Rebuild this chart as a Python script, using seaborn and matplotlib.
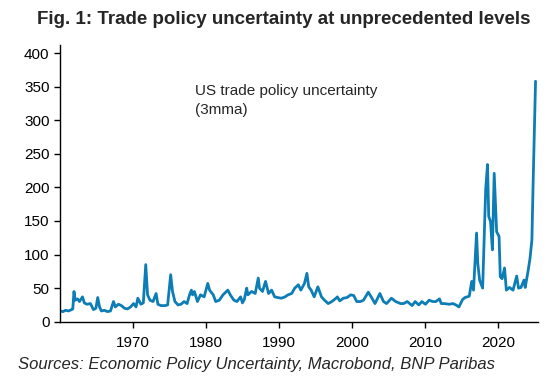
import matplotlib
matplotlib.use("Agg")
import matplotlib.pyplot as plt
import pandas as pd
import seaborn as sns

# US trade policy uncertainty (3mma)
dates = [
    "1960-01", "1960-06", "1960-10", "1961-03", "1961-08", "1961-10", "1961-12",
    "1962-02", "1962-06", "1962-09", "1963-02", "1963-05", "1963-09", "1964-03",
    "1964-08", "1964-12", "1965-03", "1965-06", "1965-09", "1966-02", "1966-07",
    "1966-12", "1967-05", "1967-08", "1968-01", "1968-06", "1968-11", "1969-04",
    "1969-09", "1970-02", "1970-06", "1970-09", "1971-02", "1971-06", "1971-10",
    "1972-01", "1972-05", "1972-10", "1973-03", "1973-06", "1973-11", "1974-06",
    "1974-10", "1975-03", "1975-06", "1975-10", "1976-03", "1976-08", "1977-01",
    "1977-06", "1977-10", "1978-01", "1978-03", "1978-06", "1978-11", "1979-04",
    "1979-10", "1980-04", "1980-07", "1981-01", "1981-05", "1981-11", "1982-05",
    "1983-01", "1983-05", "1983-11", "1984-04", "1984-10", "1985-01", "1985-04",
    "1985-08", "1985-10", "1986-04", "1986-10", "1987-03", "1987-05", "1987-10",
    "1988-03", "1988-08", "1989-01", "1989-06", "1989-11", "1990-05", "1990-11",
    "1991-04", "1991-10", "1992-03", "1992-09", "1993-01", "1993-07", "1993-11",
    "1994-02", "1994-06", "1994-11", "1995-05", "1995-11", "1996-04", "1996-10",
    "1997-04", "1997-11", "1998-01", "1998-05", "1998-11", "1999-05", "1999-11",
    "2000-04", "2000-09", "2001-03", "2001-08", "2002-04", "2002-10", "2003-03",
    "2003-11", "2004-05", "2004-10", "2005-06", "2006-01", "2006-09", "2007-02",
    "2007-08", "2008-04", "2008-09", "2009-03", "2009-08", "2010-02", "2010-08",
    "2011-02", "2011-07", "2012-01", "2012-04", "2012-09", "2013-05", "2013-11",
    "2014-04", "2014-09", "2015-03", "2015-07", "2016-02", "2016-06", "2016-09",
    "2017-02", "2017-04", "2017-07", "2017-12", "2018-05", "2018-08", "2018-10",
    "2019-01", "2019-04", "2019-07", "2019-09", "2019-11", "2020-03", "2020-05",
    "2020-08", "2020-12", "2021-03", "2021-08", "2022-02", "2022-08", "2022-11",
    "2023-03", "2023-08", "2023-10", "2024-03", "2024-06", "2024-09", "2024-11",
    "2025-03",
]
tpu = [
    16, 15, 17, 16, 18, 19, 45,
    32, 34, 30, 37, 28, 26, 27,
    18, 20, 36, 22, 16, 17, 15,
    16, 30, 22, 26, 24, 20, 19,
    22, 27, 22, 35, 26, 28, 85,
    40, 32, 30, 42, 26, 24, 24,
    25, 70, 45, 30, 25, 26, 30,
    27, 40, 47, 40, 45, 30, 40,
    37, 57, 47, 40, 30, 32, 40,
    47, 40, 32, 30, 37, 28, 33,
    50, 40, 45, 42, 65, 50, 45,
    60, 42, 47, 37, 36, 35, 37,
    40, 42, 50, 55, 47, 57, 72,
    52, 47, 37, 52, 37, 32, 27,
    30, 35, 37, 31, 35, 36, 40,
    39, 30, 30, 32, 44, 35, 27,
    42, 30, 27, 35, 30, 27, 27,
    30, 24, 30, 25, 30, 26, 32,
    30, 30, 34, 27, 27, 26, 27,
    25, 22, 33, 36, 38, 60, 47,
    132, 87, 62, 50, 197, 234, 157,
    149, 107, 221, 177, 134, 127, 67,
    64, 80, 47, 51, 47, 68, 50,
    51, 62, 51, 77, 95, 122, 206,
    358,
]
xticks = [1970, 1980, 1990, 2000, 2010, 2020]
yticks = [0, 50, 100, 150, 200, 250, 300, 350, 400]

df = pd.DataFrame({"date": pd.to_datetime(dates), "tpu": tpu})
df["year"] = df["date"].dt.year + (df["date"].dt.month - 1) / 12

sns.set_style("ticks")
plt.rcParams["font.family"] = ["Liberation Sans", "DejaVu Sans"]

fig = plt.figure(figsize=(5.52, 3.80), dpi=100)
ax = fig.add_axes([0.1087, 0.1534, 0.9746 - 0.1087, 0.8816 - 0.1534])

sns.lineplot(data=df, x="year", y="tpu", ax=ax, color="#0d7db5", linewidth=2.0)

ax.set_xlim(1960, 2025.5)
ax.set_ylim(0, 412)
ax.set_xticks(xticks)
ax.set_yticks(yticks)
ax.set_xlabel("")
ax.set_ylabel("")
ax.tick_params(labelsize=11, length=4, width=1, colors="black")
ax.tick_params(axis="x", pad=6)
for s in ["top", "right"]:
    ax.spines[s].set_visible(False)
for s in ["left", "bottom"]:
    ax.spines[s].set_color("black")
    ax.spines[s].set_linewidth(1)

ax.text(1978.5, 354, "US trade policy uncertainty\n(3mma)", fontsize=11,
        va="top", ha="left", linespacing=1.5)

fig.text(0.514, 0.948, "Fig. 1: Trade policy uncertainty at unprecedented levels",
         fontsize=13.5, fontweight="bold", ha="center", va="center")
fig.text(0.032, 0.04, "Sources: Economic Policy Uncertainty, Macrobond, BNP Paribas",
         fontsize=12, style="italic", ha="left", va="center")

fig.savefig("out.png", dpi=100)
